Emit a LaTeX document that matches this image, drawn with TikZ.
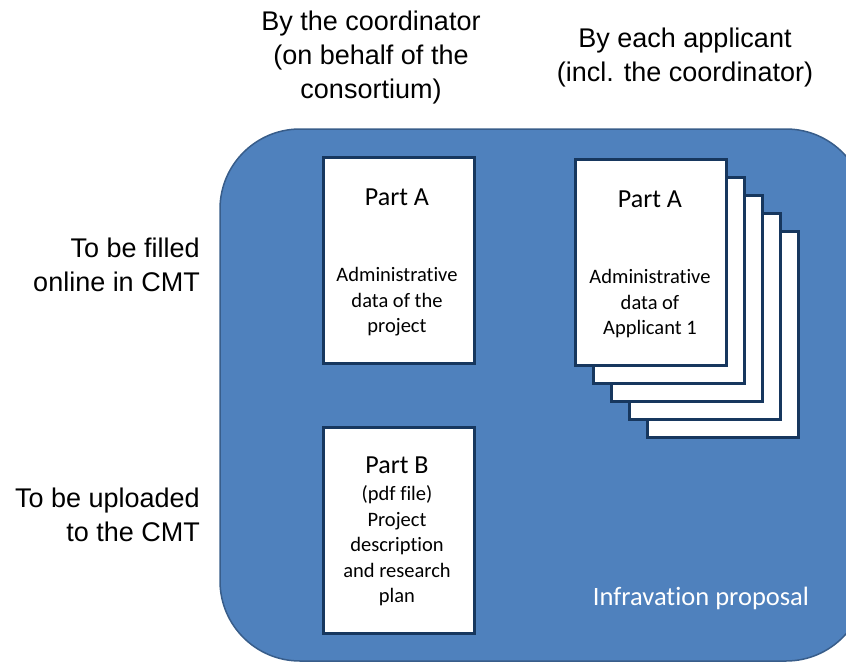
\documentclass[tikz,border=0pt]{standalone}
\usepackage{fontspec}
\setmainfont{Liberation Sans}
\newfontfamily\calibri[Ligatures={NoCommon}]{Carlito}
\definecolor{fillblue}{HTML}{4F81BD}
\definecolor{edgeblue}{HTML}{385D8A}
\definecolor{boxedge}{HTML}{17375E}
\begin{document}
\begin{tikzpicture}[x=1pt,y=-1pt,
  page/.style={draw=boxedge, line width=2.5pt, fill=white, minimum width=151pt, minimum height=206pt, inner sep=0pt, anchor=north west},
  outer/.style={font=\fontsize{27}{34}\selectfont, inner sep=0pt},
  title/.style={font=\calibri\fontsize{26}{31}\selectfont, inner sep=0pt},
  body/.style={font=\calibri\fontsize{20.5}{25.5}\selectfont, align=center, inner sep=0pt}]
\useasboundingbox (0,0) rectangle (846,662);
\clip (0,0) rectangle (846,662);
% proposal area
\draw[fill=fillblue, draw=edgeblue, line width=1.5pt, rounded corners=80pt] (220,129) rectangle (866,661);
% column / row headings
\node[outer, align=center] (hcoord) at (371,58) {By the coordinator\\(on behalf of the\\consortium)};
\node[outer, align=center] (happl) at (685,58) {By each applicant\\(incl. the coordinator)};
\node[outer, align=right, anchor=east] (hfill) at (200,265) {To be filled\\online in CMT};
\node[outer, align=right, anchor=east] (hup) at (200,515) {To be uploaded\\to the CMT};
% coordinator Part A
\node[page] (pa) at (322,156) {};
\node[title] (pat) at (397,197) {Part A};
\node[body] (pab) at (397,302) {Administrative\\data of the\\project};
% coordinator Part B
\node[page] (pb) at (322,426) {};
\node[title] (pbt) at (397,465) {Part B};
\node[body] (pbb) at (397,546) {(pdf file)\\Project\\description\\and research\\plan};
% applicant stack
\node[page] (s4) at (646,230) {};
\node[page] (s3) at (628,212) {};
\node[page] (s2) at (610,194) {};
\node[page] (s1) at (592,176) {};
\node[page] (s0) at (574,158) {};
\node[title] (s0t) at (650,199) {Part A};
\node[body] (s0b) at (650,304) {Administrative\\data of\\Applicant 1};
% label
\node[font=\calibri\fontsize{26.5}{31}\selectfont, text=white, inner sep=0pt] (lab) at (701,598) {Infravation proposal};
\end{tikzpicture}
\end{document}
